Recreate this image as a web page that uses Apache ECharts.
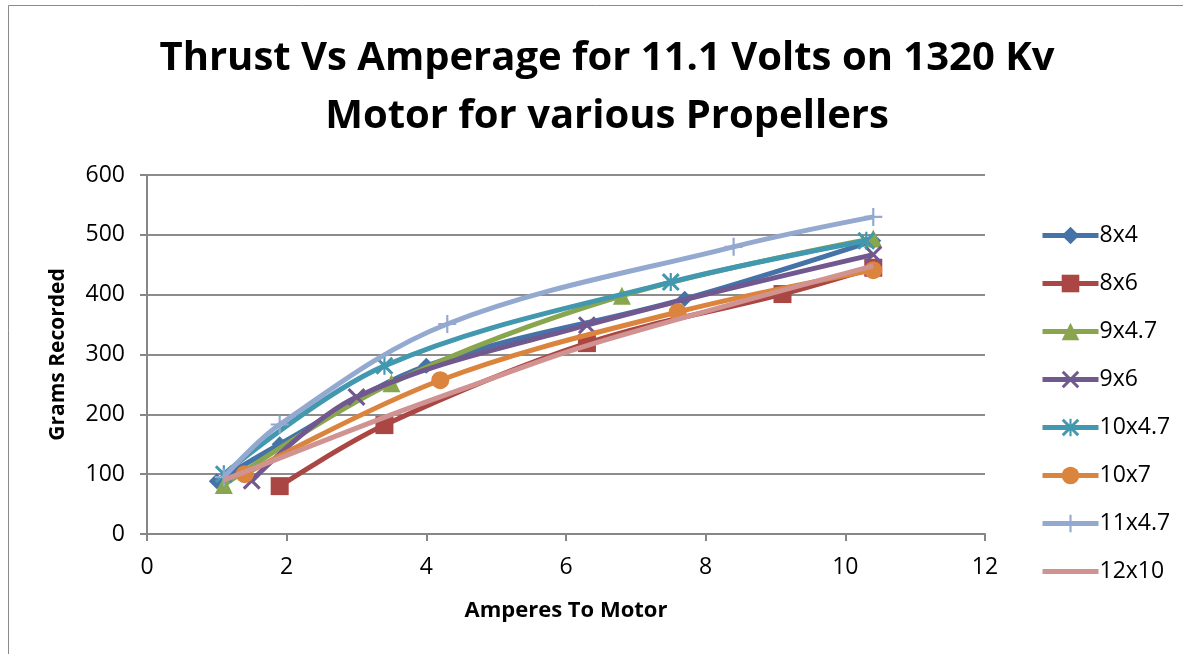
<!DOCTYPE html>
<html>
<head>
<meta charset="utf-8">
<script src="https://cdn.jsdelivr.net/npm/echarts@6/dist/echarts.min.js"></script>
<style>
html,body{margin:0;padding:0;background:#fff;}
#chart{width:1183px;height:654px;}
</style>
</head>
<body>
<div id="chart"></div>
<script>
// ---- data ----
const seriesNames = ['8x4','8x6','9x4.7','9x6','10x4.7','10x7','11x4.7','12x10'];
const s8x4   = [[1.0,88],[1.9,150],[4.0,281],[7.7,393],[10.4,490]];
const s8x6   = [[1.9,80],[3.4,182],[6.3,319],[9.1,401],[10.4,445]];
const s9x47  = [[1.1,82],[3.5,252],[6.8,398],[10.4,494]];
const s9x6   = [[1.5,89],[3.0,229],[6.3,349],[10.4,467]];
const s10x47 = [[1.1,100],[3.4,281],[7.5,421],[10.3,490]];
const s10x7  = [[1.4,100],[4.2,257],[7.6,371],[10.4,441]];
const s11x47 = [[1.1,95],[1.9,183],[4.3,351],[8.4,480],[10.4,530]];
const s12x10 = [[1.1,90],[3.4,195],[4.7,250],[6.3,315],[10.4,448]];
const xTicks = [0,2,4,6,8,10,12];
const yTicks = [0,100,200,300,400,500,600];

const colors = ['#4572A7','#AA4643','#89A54E','#71588F','#4198AF','#DB843D','#93A9CF','#D19392'];
const symX = 'path://M0,1.2 L1.2,0 L10,8.8 L8.8,10 Z M8.8,0 L10,1.2 L1.2,10 L0,8.8 Z';
const symStar = 'path://M0,1.2 L1.2,0 L10,8.8 L8.8,10 Z M8.8,0 L10,1.2 L1.2,10 L0,8.8 Z M4.4,0 L5.6,0 L5.6,10 L4.4,10 Z';
const symPlus = 'path://M4.4,0 L5.6,0 L5.6,10 L4.4,10 Z M0,4.4 L10,4.4 L10,5.6 L0,5.6 Z';
const symbols = ['diamond','rect','triangle',symX,symStar,'circle',symPlus,'none'];
const sizes = [16,18,18,18,18,18,18,0];
const dataList = [s8x4,s8x6,s9x47,s9x6,s10x47,s10x7,s11x47,s12x10];

const chart = echarts.init(document.getElementById('chart'));
const font = '"Open Sans", "Liberation Sans", sans-serif';
const legendData = seriesNames.map(n => n === '12x10'
  ? {name:n, icon:'path://M0,0 L56,0 L56,5 L0,5 Z'}
  : {name:n});
chart.setOption({
  animation:false,
  color: colors,
  graphic:[{type:'rect',shape:{x:8.5,y:5.5,width:1200,height:700},style:{fill:'none',stroke:'#8a8a8a',lineWidth:1}}],
  title:{
    text:'Thrust Vs Amperage for 11.1 Volts on 1320 Kv\nMotor for various Propellers',
    top:25, left:602, textAlign:'center',
    textStyle:{fontFamily:'"Open Sans", sans-serif',fontWeight:'bold',fontSize:40,lineHeight:58,color:'#000'}
  },
  legend:{
    orient:'vertical', left:1035, top:219,
    itemWidth:56, itemHeight:22, itemGap:25,
    data: legendData,
    lineStyle:{width:5},
    textStyle:{fontFamily:font,fontSize:23,color:'#000',padding:[0,0,0,-4]}
  },
  grid:{left:147,right:198,top:175,bottom:120},
  xAxis:{
    type:'value', min:0, max:12, interval:2,
    name:'Amperes To Motor', nameLocation:'middle', nameGap:66,
    nameTextStyle:{fontFamily:font,fontWeight:'bold',fontSize:22,color:'#000'},
    axisLine:{show:true,lineStyle:{color:'#868686',width:2}},
    axisTick:{show:true,length:7,lineStyle:{color:'#868686',width:2}},
    axisLabel:{fontFamily:font,fontSize:23,color:'#000',margin:22,formatter:v=>xTicks.includes(v)?String(v):''},
    splitLine:{show:false}
  },
  yAxis:{
    type:'value', min:0, max:600, interval:100,
    name:'Grams Recorded', nameLocation:'middle', nameGap:78, nameRotate:90,
    nameTextStyle:{fontFamily:font,fontWeight:'bold',fontSize:21,color:'#000'},
    axisLine:{show:true,lineStyle:{color:'#868686',width:2}},
    axisTick:{show:true,length:7,lineStyle:{color:'#868686',width:2}},
    axisLabel:{fontFamily:font,fontSize:23,color:'#000',margin:22,formatter:v=>yTicks.includes(v)?String(v):''},
    splitLine:{show:true,lineStyle:{color:'#8c8c8c',width:2}}
  },
  series: seriesNames.map((n,i)=>({
    name:n, type:'line', data:dataList[i], smooth:0.35,
    symbol:symbols[i], symbolSize:sizes[i], showSymbol: symbols[i]!=='none',
    lineStyle:{width:5,color:colors[i]},
    itemStyle:{color:colors[i]},
    z: 2+i
  }))
});
</script>
</body>
</html>
